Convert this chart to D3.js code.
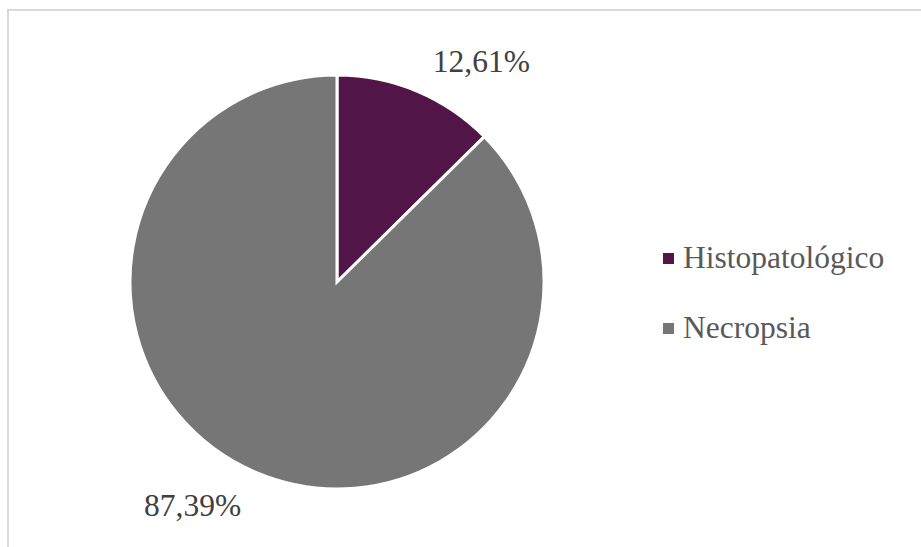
<!DOCTYPE html>
<html>
<head>
<meta charset="utf-8">
<script src="https://cdn.jsdelivr.net/npm/d3@7"></script>
</head>
<body style="margin:0">
<div id="grafico" style="position:relative;width:921px;height:547px"></div>
<script>
// datos
var categorias = ["Histopatológico", "Necropsia"];
var valores = [12.61, 87.39];
var etiquetas = ["12,61%", "87,39%"];
var colores = ["#511547", "#767676"];

var cx = 337, cy = 282, radio = 207;
var pie = d3.pie().sort(null).value(function(d) { return d; });
var arcos = pie(valores);
var arco = d3.arc().innerRadius(0).outerRadius(radio);

// capa de formas
var svg = d3.select("#grafico").append("svg")
    .attr("width", 921).attr("height", 547)
    .style("position", "absolute").style("left", "0px").style("top", "0px");

svg.append("rect")
    .attr("x", 8).attr("y", 10)
    .attr("width", 940).attr("height", 560)
    .attr("fill", "none")
    .attr("stroke", "#d9d9d9")
    .attr("stroke-width", 2);

var g = svg.append("g").attr("transform", "translate(" + cx + "," + cy + ")");
g.selectAll("path").data(arcos).enter()
    .append("path")
    .attr("d", arco)
    .attr("fill", function(d, i) { return colores[i]; })
    .attr("stroke", "#fff")
    .attr("stroke-width", 3);

svg.selectAll("rect.mk").data(categorias).enter()
    .append("rect")
    .attr("class", "mk")
    .attr("x", 663)
    .attr("y", function(d, i) { return 253 + i * 70; })
    .attr("width", 11).attr("height", 11)
    .attr("fill", function(d, i) { return colores[i]; });

// capa de textos
var svgTxt = d3.select("#grafico").append("svg")
    .attr("width", 921).attr("height", 547)
    .style("position", "absolute").style("left", "0px").style("top", "0px");

var radioEtq = 265;
function posEtq(d) {
    var a = (d.startAngle + d.endAngle) / 2 + 0.18;
    return [cx + Math.sin(a) * radioEtq, cy - Math.cos(a) * radioEtq];
}
svgTxt.selectAll("text.etq").data(arcos).enter()
    .append("text")
    .attr("class", "etq")
    .attr("x", function(d) { return posEtq(d)[0]; })
    .attr("y", function(d) { return posEtq(d)[1] + 12; })
    .attr("text-anchor", "middle")
    .attr("font-size", 31.5)
    .style("font-family", "'Liberation Serif', Tinos, 'Times New Roman'")
    .attr("fill", "#404040")
    .text(function(d, i) { return etiquetas[i]; });

svgTxt.selectAll("text.ley").data(categorias).enter()
    .append("text")
    .attr("class", "ley")
    .attr("x", 683)
    .attr("y", function(d, i) { return 268 + i * 70; })
    .attr("font-size", 31.5)
    .style("font-family", "'Liberation Serif', Tinos, 'Times New Roman'")
    .attr("fill", "#595959")
    .text(function(d) { return d; });
</script>
</body>
</html>
